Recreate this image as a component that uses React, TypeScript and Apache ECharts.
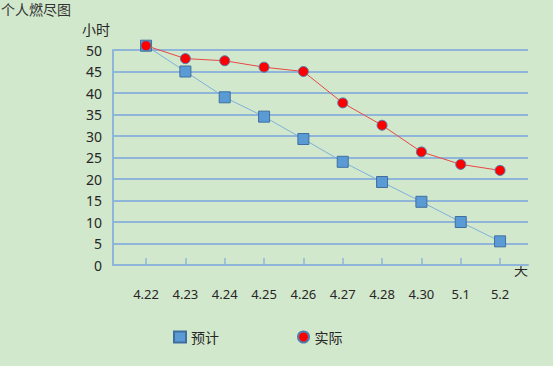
import React, { useEffect, useRef } from "react";
import * as echarts from "echarts";

const categories = ["4.22", "4.23", "4.24", "4.25", "4.26", "4.27", "4.28", "4.30", "5.1", "5.2"];
const planned = [51, 45, 39, 34.5, 29.3, 24, 19.3, 14.7, 10, 5.5];
const actual = [51, 48, 47.5, 46, 45, 37.7, 32.5, 26.3, 23.4, 22];
const yTicks = { min: 0, max: 50, interval: 5 };

const FONT = '"Noto Sans", "Noto Sans CJK SC", sans-serif';
const TXT = "#262626";
const GRID = "#8fb6d8";

export default function App() {
  const ref = useRef<HTMLDivElement>(null);
  useEffect(() => {
    if (!ref.current) return;
    const chart = echarts.init(ref.current, null, { renderer: "svg" });
    const idx = categories.map((_, i) => i);
    chart.setOption({
      animation: false,
      backgroundColor: "#d2e8cc",
      textStyle: { fontFamily: FONT, color: TXT },
      grid: { left: 113, right: 25, top: 50, bottom: 101 },
      graphic: [
        { type: "text", left: 1, top: 2, style: { text: "个人燃尽图", font: `14px ${FONT}`, fill: "#333" } },
        { type: "text", left: 82, top: 22, style: { text: "小时", font: `14px ${FONT}`, fill: TXT } },
        { type: "text", left: 514, top: 262, style: { text: "天", font: `14px ${FONT}`, fill: TXT } },
      ],
      legend: {
        left: 168,
        top: 325,
        itemGap: 78,
        itemWidth: 12,
        itemHeight: 11,
        itemTextGap: 9,
        textStyle: { fontSize: 14, color: TXT, fontFamily: FONT },
        data: [
          { name: "预计", icon: "rect" },
          { name: "实际", icon: "circle" },
        ],
      },
      xAxis: {
        type: "value",
        min: -0.84,
        max: 9.71,
        splitLine: { show: false },
        axisLine: { show: true, onZero: false, lineStyle: { color: GRID, width: 2 } },
        axisTick: { show: true, inside: true, length: 7, customValues: idx, lineStyle: { color: GRID, width: 1.5 } },
        axisLabel: {
          customValues: idx,
          margin: 22,
          fontSize: 13,
          color: TXT,
          fontFamily: FONT,
          formatter: (v: number) => categories[Math.round(v)] ?? "",
        },
      },
      yAxis: {
        type: "value",
        min: yTicks.min,
        max: yTicks.max,
        interval: yTicks.interval,
        axisLine: { show: true, onZero: false, lineStyle: { color: GRID, width: 2 } },
        axisTick: { show: false },
        axisLabel: { fontSize: 14, color: TXT, margin: 11, fontFamily: FONT },
        splitLine: { lineStyle: { color: GRID, width: 2 } },
      },
      series: [
        {
          name: "预计",
          type: "line",
          clip: false,
          data: planned.map((v, i) => [i, v]),
          symbol: "rect",
          symbolSize: 11,
          lineStyle: { color: "#7eb1dc", width: 1 },
          itemStyle: { color: "#5b9bd5", borderColor: "#3f6f9f", borderWidth: 1 },
          z: 2,
        },
        {
          name: "实际",
          type: "line",
          clip: false,
          data: actual.map((v, i) => [i, v]),
          symbol: "circle",
          symbolSize: 10,
          lineStyle: { color: "#e84848", width: 1 },
          itemStyle: { color: "#ff0000", borderColor: "#4f7fae", borderWidth: 1 },
          z: 3,
        },
      ],
    });
    return () => chart.dispose();
  }, []);
  return <div ref={ref} style={{ position: "absolute", left: 0, top: 0, width: 553, height: 366 }} />;
}
